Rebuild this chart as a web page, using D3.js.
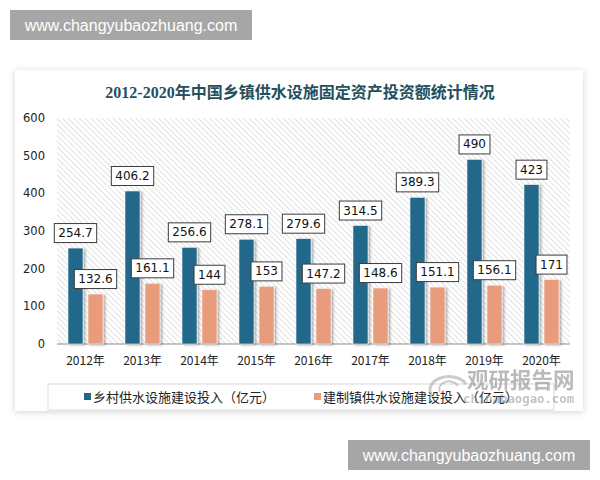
<!DOCTYPE html>
<html>
<head>
<meta charset="utf-8">
<script src="https://cdn.jsdelivr.net/npm/d3@7/dist/d3.min.js"></script>
<style>
  body { margin: 0; background: #fff; }
  svg { display: block; }
</style>
</head>
<body>
<div id="chart-container"></div>
<script>
// data
const years = ["2012年", "2013年", "2014年", "2015年", "2016年", "2017年", "2018年", "2019年", "2020年"];
const ruralValues = [254.7, 406.2, 256.6, 278.1, 279.6, 314.5, 389.3, 490, 423];
const townValues = [132.6, 161.1, 144, 153, 147.2, 148.6, 151.1, 156.1, 171];
const seriesNames = ["乡村供水设施建设投入（亿元）", "建制镇供水设施建设投入（亿元）"];
const yTicks = [0, 100, 200, 300, 400, 500, 600];
const colors = ["#22678b", "#e99c7c"];

const width = 600, height = 480;
const cjk = "'Noto Sans CJK SC', 'DejaVu Sans', sans-serif";

const svg = d3.select("#chart-container")
    .append("svg")
    .attr("width", width)
    .attr("height", height);

const defs = svg.append("defs");

// hatch pattern for plot background
const pat = defs.append("pattern")
    .attr("id", "hatch")
    .attr("patternUnits", "userSpaceOnUse")
    .attr("width", 4)
    .attr("height", 4)
    .attr("patternTransform", "rotate(-45)");
pat.append("rect").attr("width", 4).attr("height", 4).attr("fill", "#ffffff");
pat.append("line")
    .attr("x1", 0).attr("y1", 0).attr("x2", 0).attr("y2", 4)
    .attr("stroke", "#d2d2d2").attr("stroke-width", 1.3);

const cardShadow = defs.append("filter").attr("id", "cardShadow")
    .attr("x", "-5%").attr("y", "-5%").attr("width", "110%").attr("height", "110%");
cardShadow.append("feDropShadow")
    .attr("dx", 0).attr("dy", 1).attr("stdDeviation", 3)
    .attr("flood-color", "#000").attr("flood-opacity", 0.18);

const barShadow = defs.append("filter").attr("id", "barShadow")
    .attr("x", "-30%").attr("y", "-10%").attr("width", "180%").attr("height", "130%");
barShadow.append("feDropShadow")
    .attr("dx", 2).attr("dy", 1).attr("stdDeviation", 1.2)
    .attr("flood-color", "#000").attr("flood-opacity", 0.3);

// top watermark
svg.append("rect").attr("x", 10).attr("y", 10).attr("width", 242).attr("height", 30).attr("fill", "#a6a6a6");
svg.append("text")
    .attr("x", 131).attr("y", 31)
    .attr("text-anchor", "middle")
    .attr("font-family", "'Liberation Sans', Arial, sans-serif")
    .attr("font-size", 16)
    .attr("fill", "#fff")
    .text("www.changyubaozhuang.com");

// card
svg.append("rect")
    .attr("x", 15).attr("y", 70).attr("width", 568).attr("height", 341)
    .attr("fill", "#fff")
    .attr("filter", "url(#cardShadow)");

// title
svg.append("text")
    .attr("x", 300).attr("y", 98)
    .attr("text-anchor", "middle")
    .attr("font-family", "'Liberation Serif', 'Noto Sans CJK SC', serif")
    .attr("font-weight", "bold")
    .attr("font-size", 16)
    .attr("fill", "#24505e")
    .text("2012-2020年中国乡镇供水设施固定资产投资额统计情况");

// scales
const x = d3.scaleBand().domain(years).range([57, 570]);
const xSub = d3.scaleBand().domain([0, 1]).range([11, 46]).paddingInner(0.25);
const y = d3.scaleLinear().domain([0, 600]).range([344, 118]);

// plot background
svg.append("rect")
    .attr("x", 57).attr("y", y(600))
    .attr("width", 513).attr("height", y(0) - y(600))
    .attr("fill", "url(#hatch)");

// y axis labels
svg.append("g")
    .selectAll("text")
    .data(yTicks)
    .join("text")
    .attr("x", 45)
    .attr("y", d => y(d) + 4)
    .attr("text-anchor", "end")
    .attr("font-family", "'DejaVu Sans', sans-serif")
    .attr("font-size", 11.5)
    .attr("fill", "#222")
    .text(d => d);

// baseline
svg.append("line")
    .attr("x1", 57).attr("x2", 570)
    .attr("y1", y(0)).attr("y2", y(0))
    .attr("stroke", "#8c8c8c").attr("stroke-width", 1);

// x labels
svg.append("g")
    .selectAll("text")
    .data(years)
    .join("text")
    .attr("x", d => x(d) + x.bandwidth() / 2)
    .attr("y", 365)
    .attr("text-anchor", "middle")
    .attr("font-family", cjk)
    .attr("font-size", 12)
    .attr("fill", "#222")
    .text(d => d);

// bars + labels
const series = [ruralValues, townValues];
series.forEach((vals, si) => {
    const rows = years.map((yr, i) => ({ year: yr, value: vals[i] }));
    svg.append("g")
        .selectAll("rect")
        .data(rows)
        .join("rect")
        .attr("x", d => x(d.year) + xSub(si))
        .attr("y", d => y(d.value))
        .attr("width", xSub.bandwidth())
        .attr("height", d => y(0) - y(d.value))
        .attr("fill", colors[si])
        .attr("stroke", "#f4f4f4")
        .attr("stroke-width", 0.6)
        .attr("filter", "url(#barShadow)");

    const lab = svg.append("g")
        .selectAll("g")
        .data(rows)
        .join("g")
        .attr("transform", d => `translate(${x(d.year) + xSub(si) + xSub.bandwidth() / 2},${y(d.value) - 15})`);
    const rects = lab.append("rect").attr("fill", "#fff").attr("stroke", "#3c3c3c").attr("stroke-width", 1);
    const texts = lab.append("text")
        .attr("text-anchor", "middle")
        .attr("y", 4)
        .attr("font-family", "'DejaVu Sans', sans-serif")
        .attr("font-size", 12)
        .attr("fill", "#111")
        .text(d => d.value);
    texts.each(function (d, i) {
        const w = this.getComputedTextLength() + 8;
        d3.select(rects.nodes()[i])
            .attr("x", -w / 2).attr("y", -9.5)
            .attr("width", w).attr("height", 19);
    });
});

// legend
svg.append("rect")
    .attr("x", 48).attr("y", 384).attr("width", 506).attr("height", 26)
    .attr("fill", "#fff").attr("stroke", "#d9d9d9");
const legendX = [84, 314];
seriesNames.forEach((name, i) => {
    svg.append("rect")
        .attr("x", legendX[i]).attr("y", 393)
        .attr("width", 7).attr("height", 7)
        .attr("fill", colors[i]);
    svg.append("text")
        .attr("x", legendX[i] + 9).attr("y", 401.5)
        .attr("font-family", cjk)
        .attr("font-size", 13)
        .attr("fill", "#222")
        .text(name);
});

// logo watermark
const logo = svg.append("g").attr("opacity", 0.5);
logo.append("path")
    .attr("d", "M432,396 A17,12 0 1 1 466,384")
    .attr("fill", "none").attr("stroke", "#9a9a9a").attr("stroke-width", 3);
logo.append("path")
    .attr("d", "M440,392 A9,7 0 1 1 458,386")
    .attr("fill", "none").attr("stroke", "#9a9a9a").attr("stroke-width", 2);
logo.append("text")
    .attr("x", 467).attr("y", 388)
    .attr("font-family", cjk)
    .attr("font-weight", "bold")
    .attr("font-size", 21.5)
    .attr("fill", "#777")
    .text("观研报告网");
logo.append("text")
    .attr("x", 463).attr("y", 403)
    .attr("font-family", "'DejaVu Sans Mono', monospace")
    .attr("font-weight", "bold")
    .attr("font-size", 12.3)
    .attr("fill", "#888")
    .text("chinabaogao.com");

// bottom watermark
svg.append("rect").attr("x", 348).attr("y", 440).attr("width", 242).attr("height", 30).attr("fill", "#a6a6a6");
svg.append("text")
    .attr("x", 469).attr("y", 461)
    .attr("text-anchor", "middle")
    .attr("font-family", "'Liberation Sans', Arial, sans-serif")
    .attr("font-size", 16)
    .attr("fill", "#fff")
    .text("www.changyubaozhuang.com");
</script>
</body>
</html>
